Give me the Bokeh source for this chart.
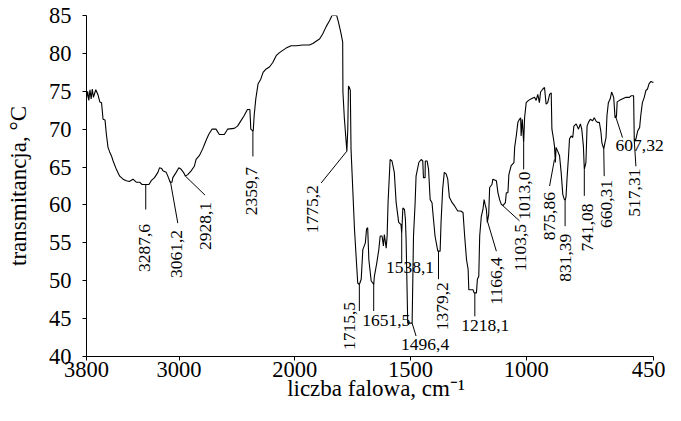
import math
from bokeh.plotting import figure
from bokeh.models import Range1d, FixedTicker, ColumnDataSource
from bokeh.core.properties import value
from bokeh.embed import file_html
from bokeh.resources import INLINE

# ---- spectrum data (wavenumber cm-1, transmittance) ----
wavenumber = [3800, 3790, 3780, 3770, 3760, 3750, 3740, 3720, 3700, 3685, 3670, 3657, 3640, 3628, 3614,
              3600, 3585, 3570, 3542, 3513, 3484, 3456, 3430, 3398, 3370, 3341, 3320, 3298, 3260, 3241,
              3212, 3183, 3169, 3150, 3140, 3111, 3097, 3077, 3061, 3054, 3025, 3002, 2982, 2962, 2945,
              2925, 2896, 2868, 2853, 2825, 2796, 2767, 2744, 2716, 2681, 2652, 2609, 2581, 2523, 2495,
              2466, 2437, 2409, 2388, 2380, 2366, 2359, 2351, 2337, 2317, 2294, 2274, 2251, 2219, 2190,
              2161, 2132, 2104, 2075, 2032, 1994, 1965, 1937, 1922, 1908, 1893, 1879, 1865, 1850, 1839,
              1819, 1811, 1800, 1793, 1792, 1786, 1775, 1771, 1768, 1764, 1760, 1757, 1742, 1735, 1728,
              1721, 1713, 1706, 1695, 1690, 1685, 1680, 1670, 1663, 1659, 1656, 1646, 1637, 1631, 1623,
              1617, 1613, 1605, 1601, 1597, 1588, 1580, 1570, 1562, 1551, 1541, 1538, 1533, 1526, 1522,
              1519, 1512, 1504, 1496, 1493, 1487, 1480, 1476, 1464, 1454, 1447, 1444, 1437, 1436, 1428,
              1422, 1415, 1407, 1404, 1394, 1382, 1379, 1372, 1368, 1361, 1354, 1346, 1339, 1332, 1320,
              1310, 1296, 1283, 1273, 1266, 1258, 1251, 1248, 1230, 1225, 1215, 1211, 1205, 1201, 1194,
              1187, 1182, 1177, 1172, 1168, 1162, 1158, 1148, 1144, 1129, 1122, 1115, 1108, 1101, 1090,
              1086, 1079, 1075, 1065, 1053, 1050, 1043, 1036, 1029, 1024, 1022, 1017, 1011, 1007, 1000,
              990, 978, 964, 957, 950, 943, 938, 928, 921, 914, 907, 899, 892, 889, 882,
              878, 874, 871, 864, 856, 849, 842, 835, 831, 828, 823, 817, 813, 806, 799,
              794, 784, 774, 766, 760, 753, 749, 742, 737, 731, 723, 713, 706, 699, 692,
              684, 677, 673, 665, 660, 655, 651, 645, 637, 631, 622, 616, 610, 607, 597,
              583, 569, 554, 547, 536, 533, 526, 518, 510, 505, 498, 490, 483, 476, 469,
              461, 454, 450]
transmittance = [74.0, 75.0, 73.8, 75.2, 74.0, 75.3, 74.2, 75.2, 74.5, 73.6, 73.5, 71.3, 71.2, 69.3, 67.6,
                 67.0, 66.5, 65.8, 64.7, 63.8, 63.4, 63.2, 63.1, 63.4, 63.0, 63.0, 62.7, 62.7, 62.7, 63.2,
                 63.6, 64.3, 64.9, 64.8, 64.5, 64.3, 63.8, 63.0, 63.0, 63.6, 64.3, 64.9, 64.7, 64.3, 63.8,
                 64.0, 64.5, 65.1, 66.0, 66.5, 67.4, 68.5, 69.3, 70.0, 70.0, 69.3, 69.3, 70.0, 70.1, 70.4,
                 71.1, 71.8, 72.6, 72.6, 70.0, 69.8, 69.8, 71.8, 74.0, 76.0, 76.6, 77.5, 77.9, 78.2, 78.8,
                 79.7, 80.1, 80.4, 80.7, 81.0, 81.0, 81.1, 81.1, 81.3, 81.6, 81.9, 82.6, 83.5, 84.3, 85.0,
                 85.0, 84.1, 82.6, 81.5, 74.9, 71.5, 67.1, 70.0, 75.7, 75.5, 75.1, 67.4, 56.8, 53.2, 49.7,
                 49.5, 50.2, 54.1, 55.0, 56.8, 57.0, 52.8, 50.0, 49.7, 49.5, 50.6, 52.3, 54.1, 55.9, 55.9,
                 54.6, 56.1, 54.3, 55.9, 60.3, 66.0, 65.8, 64.3, 60.3, 57.7, 57.4, 56.3, 59.6, 59.4, 58.1,
                 55.4, 44.4, 44.4, 44.4, 44.4, 55.9, 60.3, 63.8, 65.6, 66.0, 65.8, 63.6, 63.6, 65.8, 65.8,
                 64.7, 60.7, 60.3, 59.2, 55.9, 53.9, 53.9, 53.9, 57.7, 62.1, 64.3, 64.1, 63.4, 61.0, 60.3,
                 59.9, 59.2, 59.2, 59.0, 55.9, 52.8, 51.5, 48.8, 48.8, 48.4, 48.4, 50.2, 50.6, 55.9, 58.5,
                 59.4, 60.7, 60.0, 59.4, 57.7, 58.8, 62.3, 62.7, 63.4, 63.2, 61.6, 60.7, 60.1, 59.9, 60.3,
                 61.6, 61.6, 64.0, 65.2, 65.6, 67.6, 69.1, 70.9, 71.3, 71.5, 69.1, 71.3, 68.2, 71.5, 73.5,
                 73.8, 74.0, 74.2, 73.8, 74.6, 73.5, 74.9, 75.3, 75.5, 73.3, 73.5, 74.6, 74.8, 70.0, 68.7,
                 67.8, 65.6, 67.6, 67.1, 66.5, 64.3, 61.4, 60.7, 60.7, 61.1, 63.8, 66.5, 68.7, 69.1, 68.9,
                 70.4, 70.7, 70.0, 70.7, 70.0, 67.8, 64.7, 65.6, 70.4, 70.9, 71.3, 71.1, 71.5, 71.1, 70.9,
                 70.9, 69.6, 68.2, 67.4, 68.2, 68.9, 71.8, 73.5, 74.0, 74.9, 74.2, 71.5, 71.7, 73.6, 73.8,
                 74.0, 74.2, 74.2, 74.4, 74.4, 68.5, 68.7, 69.8, 70.2, 71.8, 73.5, 74.2, 75.1, 75.3, 76.0,
                 76.3, 76.2, 76.2]

# ---- axis ticks and titles ----
x_ticks = [3800, 3000, 2000, 1500, 1000, 450]
y_ticks = [40, 45, 50, 55, 60, 65, 70, 75, 80, 85]
x_title = "liczba falowa, cm\u207b\u00b9"
y_title = "transmitancja, °C"

# ---- peak annotations ----
peak_text = ["3287,6", "3061,2", "2928,1", "2359,7", "1775,2", "1715,5", "1651,5", "1538,1", "1496,4",
             "1379,2", "1218,1", "1166,4", "1103,5", "1013,0", "875,86", "831,39", "741,08", "660,31",
             "607,32", "517,31"]
peak_vertical = [1, 1, 1, 1, 1, 1, 0, 0, 0, 1, 0, 1, 1, 1, 1, 1, 1, 1, 0, 1]
lead_w0 = [3288, 3075, 2945, 2362, 1775, 1721, 1659, 1538, 1493, 1379, 1222, 1168, 1101, 1011, 878, 832, 749, 665, 615, 533]
lead_t0 = [62.7, 63.1, 63.8, 69.8, 67.1, 49.5, 49.7, 56.3, 44.4, 53.9, 48.4, 57.9, 59.9, 68.2, 66.0, 60.7, 64.7, 67.4, 71.8, 68.5]
lead_w1 = [3288, 3011, 2776, 2362, 1886, 1721, 1659, 1538, 1476, 1379, 1222, 1129, 1029, 1011, 899, 832, 749, 663, 584, 526]
lead_t1 = [59.4, 57.6, 61.3, 66.4, 62.9, 46.0, 46.0, 52.4, 42.7, 50.2, 45.3, 53.9, 57.9, 64.7, 62.5, 57.2, 61.2, 63.8, 68.9, 65.1]
label_w = [3296, 3020, 2773, 2370, 1922, 1764, 1605, 1502, 1437, 1361, 1177, 1129, 1024, 1007, 899, 832, 737, 655, 510, 533]
label_t = [57.5, 56.7, 60.4, 65.0, 62.6, 47.2, 44.8, 51.7, 41.6, 49.8, 44.1, 53.1, 57.5, 64.4, 61.7, 56.2, 60.2, 63.3, 67.8, 64.8]


def to_u(w):
    # spectrometer scale: doubled resolution below 2000 cm-1
    return 3800 - w if w >= 2000 else 1800 + 2 * (2000 - w)


FONT = "Liberation Serif"
U_END = to_u(450)
PX_PER_U = 567.0 / U_END      # 3800 -> 450 spans 567 px
FRAME_W = 665 - 86

p = figure(width=665, height=405, output_backend="svg", toolbar_location=None,
           x_range=Range1d(0, FRAME_W / PX_PER_U), y_range=Range1d(40, 85),
           min_border_left=86, min_border_right=0, min_border_top=15, min_border_bottom=49)
p.outline_line_color = None
p.xgrid.visible = False
p.ygrid.visible = False
p.background_fill_color = "white"
p.border_fill_color = "white"

p.line([to_u(w) for w in wavenumber], transmittance, line_color="black", line_width=1.1)

p.segment(x0=[to_u(w) for w in lead_w0], y0=lead_t0, x1=[to_u(w) for w in lead_w1], y1=lead_t1,
          line_color="black", line_width=1)

vert = ColumnDataSource(dict(
    x=[to_u(w) for w, v in zip(label_w, peak_vertical) if v],
    y=[t for t, v in zip(label_t, peak_vertical) if v],
    t=[s for s, v in zip(peak_text, peak_vertical) if v]))
horz = ColumnDataSource(dict(
    x=[to_u(w) for w, v in zip(label_w, peak_vertical) if not v],
    y=[t for t, v in zip(label_t, peak_vertical) if not v],
    t=[s for s, v in zip(peak_text, peak_vertical) if not v]))
p.text(x="x", y="y", text="t", source=vert, angle=math.pi / 2, text_align="right",
       text_baseline="middle", text_font=value(FONT), text_font_size="17.5px", text_color="black")
p.text(x="x", y="y", text="t", source=horz, angle=0, text_align="center",
       text_baseline="middle", text_font=value(FONT), text_font_size="17.5px", text_color="black")

# axes
p.xaxis.bounds = (0, U_END)
p.xaxis.ticker = FixedTicker(ticks=[to_u(w) for w in x_ticks])
p.xaxis.major_label_overrides = {to_u(w): str(w) for w in x_ticks}
p.yaxis.ticker = FixedTicker(ticks=y_ticks)
for ax in (p.xaxis[0], p.yaxis[0]):
    ax.axis_line_color = "black"
    ax.major_tick_line_color = "black"
    ax.minor_tick_line_color = None
    ax.major_tick_in = 0
    ax.major_tick_out = 4
    ax.major_label_text_font = FONT
    ax.major_label_text_font_size = "22.5px"
    ax.major_label_text_color = "black"
    ax.axis_label_text_font = FONT
    ax.axis_label_text_font_size = "23px"
    ax.axis_label_text_font_style = "normal"
    ax.axis_label_text_color = "black"
p.xaxis.major_label_standoff = 1
p.xaxis.axis_label = x_title
p.xaxis.axis_label_standoff = -4
p.yaxis.major_label_standoff = 11
p.yaxis.axis_label = y_title
p.yaxis.axis_label_standoff = 15

open("out.html", "w").write(file_html(p, INLINE))
